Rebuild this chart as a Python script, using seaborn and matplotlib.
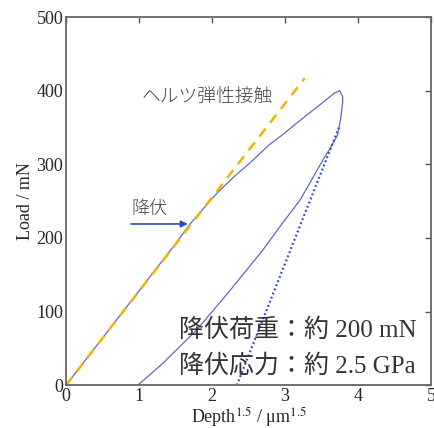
import numpy as np
import pandas as pd
import matplotlib
matplotlib.use("Agg")
import matplotlib.pyplot as plt
import seaborn as sns

# === Data ===
load_x = [0.0, 0.5, 1.0, 1.5, 1.70, 1.90, 2.07, 2.30, 2.52, 2.79, 2.99, 3.11, 3.30, 3.48, 3.68, 3.75]
load_y = [0, 64, 128, 192, 219, 242, 261, 283, 302, 327, 342, 352, 367, 381, 397, 400]

unload_x = [3.75, 3.79, 3.79, 3.76, 3.72, 3.62, 3.52, 3.40, 3.21, 2.95, 2.70, 2.25,
            1.79, 1.33, 1.10, 0.98]
unload_y = [400, 392, 384, 360, 340, 322, 306, 285, 252, 218, 184, 129,
            75, 30, 10, 0]

hertz_x = [0.0, 3.27]
hertz_y = [0, 417]

slope_x = [2.34, 3.74]
slope_y = [0, 350]

arrow_start = (0.89, 219)
arrow_end = (1.67, 219)

xticks = [0, 1, 2, 3, 4, 5]
yticks = [0, 100, 200, 300, 400, 500]

sns.set_style("white")
plt.rcParams["font.family"] = ["Liberation Serif", "Noto Sans CJK JP"]
plt.rcParams["mathtext.fontset"] = "stix"

fig = plt.figure(figsize=(4.34, 4.28), dpi=100)
ax = fig.add_axes([0.152, 0.100, 0.841, 0.860])

loop = pd.DataFrame({"x": load_x + unload_x, "y": load_y + unload_y})
sns.lineplot(data=loop, x="x", y="y", sort=False, estimator=None, ax=ax,
             color="#6666c0", lw=0.9)
sns.lineplot(x=slope_x, y=slope_y, ax=ax, color="#2a48c8", lw=1.6,
             linestyle=(0, (0.8, 1.2)))
sns.lineplot(x=hertz_x, y=hertz_y, ax=ax, color="#f2b400", lw=1.8,
             linestyle=(0, (4, 3)))

ax.annotate("", xy=arrow_end, xytext=arrow_start,
            arrowprops=dict(arrowstyle="-|>", color="#2f4fb0", lw=1.2,
                            mutation_scale=10, shrinkA=0, shrinkB=0))

jp = ["Noto Sans CJK JP"]
ax.text(1.04, 391, "ヘルツ弾性接触", family=jp, fontsize=13.5, color="#444444",
        va="center", ha="left", fontweight="light")
ax.text(0.90, 240, "降伏", family=jp, fontsize=13, color="#444444",
        va="center", ha="left", fontweight="light")
ax.text(1.55, 75, "降伏荷重：約 200 mN", fontsize=18, color="#333333",
        va="center", ha="left")
ax.text(1.55, 26, "降伏応力：約 2.5 GPa", fontsize=18, color="#333333",
        va="center", ha="left")

ax.set_xlim(0, 5)
ax.set_ylim(0, 500)
ax.set_xticks(xticks)
ax.set_yticks(yticks)
ax.tick_params(direction="in", length=4, width=1, color="#555555",
               top=True, right=True, labelsize=13, pad=2)
for s in ax.spines.values():
    s.set_color("#666666")
    s.set_linewidth(1.3)

ax.set_xlabel(r"Depth$^{1.5}$ / μm$^{1.5}$", fontsize=13, labelpad=0)
ax.set_ylabel("Load / mN", fontsize=13, labelpad=2)

fig.savefig("out.png", dpi=100)
